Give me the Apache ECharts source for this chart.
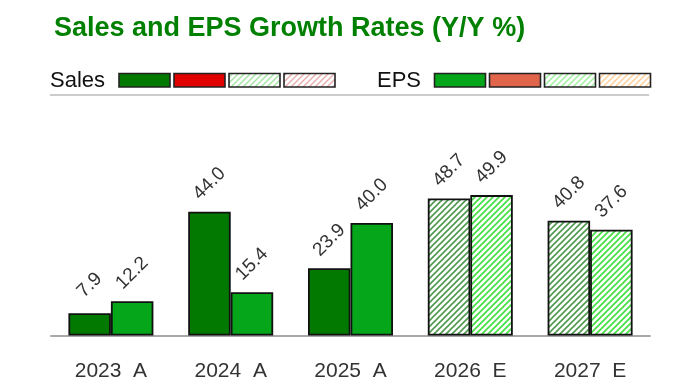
<!DOCTYPE html>
<html>
<head>
<meta charset="utf-8">
<script src="https://cdn.jsdelivr.net/npm/echarts@6/dist/echarts.min.js"></script>
<style>
html,body{margin:0;padding:0;background:#fff;}
#chart{width:700px;height:387px;}
</style>
</head>
<body>
<div id="chart"></div>
<script>
// ---- data ----
var categories = ['2023  A', '2024  A', '2025  A', '2026  E', '2027  E'];
var salesGrowth = [7.9, 44.0, 23.9, 48.7, 40.8];
var epsGrowth = [12.2, 15.4, 40.0, 49.9, 37.6];
var isEstimate = [false, false, false, true, true];

var FONT = '"Liberation Sans", Arial, sans-serif';

function hatch(color, bg, size, lw) {
  var c = document.createElement('canvas');
  c.width = size; c.height = size;
  var g = c.getContext('2d');
  g.fillStyle = bg; g.fillRect(0, 0, size, size);
  g.strokeStyle = color; g.lineWidth = lw;
  g.beginPath();
  g.moveTo(-1, size + 1); g.lineTo(size + 1, -1);
  g.moveTo(-1, 1); g.lineTo(1, -1);
  g.moveTo(size - 1, size + 1); g.lineTo(size + 1, size - 1);
  g.stroke();
  return { image: c, repeat: 'repeat' };
}

var SALES_A = '#027a02', EPS_A = '#05a61a';
var salesEst = hatch('#4e9a4e', '#ffffff', 6, 1.6);
var epsEst = hatch('#3fe03f', '#ffffff', 6, 1.6);

function buildData(vals, actualColor, estPattern) {
  return vals.map(function (v, i) {
    return { value: v, itemStyle: { color: isEstimate[i] ? estPattern : actualColor } };
  });
}

var labelCfg = {
  show: true, position: 'top', distance: 28, rotate: 45,
  align: 'center', verticalAlign: 'middle',
  fontFamily: FONT, fontSize: 19, color: '#333',
  formatter: function (p) { return p.value.toFixed(1); }
};

// ---- legend graphics ----
var graphics = [];
function legendGroup(label, tx, sx, swatches) {
  graphics.push({ type: 'text', left: tx, top: 70, style: { text: label, font: '22px ' + FONT, fill: '#111' } });
  swatches.forEach(function (f, i) {
    graphics.push({ type: 'rect', shape: { x: sx + i * 55, y: 73.5, width: 51, height: 13.5 },
      style: { fill: f, stroke: '#222', lineWidth: 1.6 } });
  });
}
legendGroup('Sales', 50, 119, [SALES_A, '#e00000', hatch('#a8e4a8', '#ffffff', 6, 1.5), hatch('#e8b0b0', '#ffffff', 6, 1.5)]);
legendGroup('EPS', 377, 434.5, [EPS_A, '#e0654a', hatch('#9ff09f', '#ffffff', 6, 1.5), hatch('#ffd09a', '#ffffff', 6, 1.5)]);
graphics.push({ type: 'line', shape: { x1: 50, y1: 95, x2: 649, y2: 95 }, style: { stroke: '#cccccc', lineWidth: 2 } });

var chart = echarts.init(document.getElementById('chart'), null, { renderer: 'canvas' });
chart.setOption({
  animation: false,
  backgroundColor: '#ffffff',
  title: {
    text: 'Sales and EPS Growth Rates (Y/Y %)',
    left: 49, top: 10,
    textStyle: { fontFamily: FONT, fontSize: 27, fontWeight: 'bold', color: '#008000' }
  },
  graphic: graphics,
  grid: { left: 51, right: 50, top: 166.7, bottom: 51.5 },
  xAxis: {
    type: 'category', data: categories,
    axisLine: { lineStyle: { color: '#aaaaaa', width: 2 } },
    axisTick: { show: false },
    axisLabel: { fontFamily: FONT, fontSize: 21, color: '#333', margin: 25 }
  },
  yAxis: { type: 'value', min: 0, max: 60, show: false, splitLine: { show: false } },
  series: [
    { name: 'Sales', type: 'bar', barWidth: 42.5, barGap: '0%',
      data: buildData(salesGrowth, SALES_A, salesEst),
      itemStyle: { borderColor: '#111', borderWidth: 1.8 }, label: labelCfg },
    { name: 'EPS', type: 'bar', barWidth: 42.5, barGap: '0%',
      data: buildData(epsGrowth, EPS_A, epsEst),
      itemStyle: { borderColor: '#111', borderWidth: 1.8 }, label: labelCfg }
  ]
});
</script>
</body>
</html>
